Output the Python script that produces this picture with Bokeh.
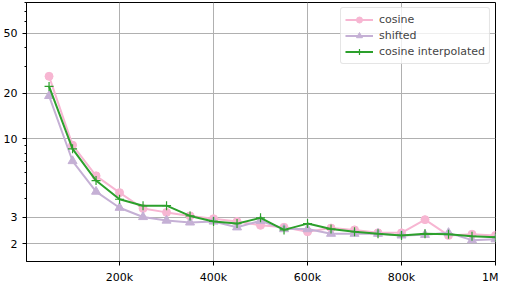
from bokeh.plotting import figure
from bokeh.models import FixedTicker, PrintfTickFormatter, Range1d, Legend, LegendItem
from bokeh.embed import file_html
from bokeh.resources import INLINE

x = [50000, 100000, 150000, 200000, 250000, 300000, 350000, 400000, 450000, 500000,
     550000, 600000, 650000, 700000, 750000, 800000, 850000, 900000, 950000, 1000000]
cosine = [25.9, 9.05, 5.66, 4.38, 3.44, 3.24, 3.07, 2.94, 2.82, 2.66,
          2.58, 2.41, 2.55, 2.48, 2.37, 2.37, 2.90, 2.28, 2.32, 2.28]
shifted = [19.2, 7.1, 4.45, 3.48, 3.02, 2.86, 2.78, 2.82, 2.58, 2.85,
           2.51, 2.51, 2.34, 2.34, 2.34, 2.28, 2.30, 2.37, 2.12, 2.15]
interp = [22.2, 8.55, 5.27, 3.96, 3.59, 3.59, 3.07, 2.82, 2.73, 2.98,
          2.48, 2.73, 2.51, 2.41, 2.34, 2.28, 2.34, 2.32, 2.25, 2.22]

x_ticks = [200000, 400000, 600000, 800000, 1000000]
x_labels = ["200k", "400k", "600k", "800k", "1M"]
y_ticks = [2, 3, 10, 20, 50]
y_minor = [4, 5, 6, 7, 8, 9, 30, 40, 60, 70, 80]

FONT = "DejaVu Sans"

p = figure(width=498, height=286, y_axis_type="log", output_backend="svg",
           toolbar_location=None, x_range=Range1d(2000, 1000000), y_range=Range1d(1.53, 80),
           min_border_left=24, min_border_right=3, min_border_top=2, min_border_bottom=4)

p.outline_line_color = "black"
p.outline_line_width = 1
p.background_fill_color = "white"

p.xaxis.ticker = FixedTicker(ticks=x_ticks)
p.xaxis.major_label_overrides = {t: l for t, l in zip(x_ticks, x_labels)}
p.yaxis.ticker = FixedTicker(ticks=y_ticks, minor_ticks=y_minor)
p.yaxis.formatter = PrintfTickFormatter(format="%d")

for ax in [p.xaxis, p.yaxis]:
    ax.axis_line_color = "black"
    ax.major_tick_line_color = "black"
    ax.minor_tick_line_color = "black"
    ax.major_tick_in = 0
    ax.major_tick_out = 4
    ax.minor_tick_in = 0
    ax.minor_tick_out = 2
    ax.major_label_text_font = FONT
    ax.major_label_text_font_size = "11px"
    ax.major_label_text_color = "black"
p.xaxis.minor_tick_line_color = None

p.xgrid.ticker = FixedTicker(ticks=x_ticks)
p.ygrid.ticker = FixedTicker(ticks=y_ticks)
for g in [p.xgrid, p.ygrid]:
    g.grid_line_color = "#b0b0b0"
    g.grid_line_width = 1

c1 = "#f7b6d2"
c2 = "#c5b0d5"
c3 = "#2ca02c"

l1 = p.line(x, cosine, line_color=c1, line_width=2)
m1 = p.scatter(x, cosine, marker="circle", size=8, fill_color=c1, line_color=c1)
l2 = p.line(x, shifted, line_color=c2, line_width=2)
m2 = p.scatter(x, shifted, marker="triangle", size=9, fill_color=c2, line_color=c2)
l3 = p.line(x, interp, line_color=c3, line_width=2)
m3 = p.scatter(x, interp, marker="cross", size=9, line_color=c3, line_width=1.2)

legend = Legend(items=[
    LegendItem(label="cosine", renderers=[l1, m1]),
    LegendItem(label="shifted", renderers=[l2, m2]),
    LegendItem(label="cosine interpolated", renderers=[l3, m3]),
], location="top_right")
legend.label_text_font = FONT
legend.label_text_font_size = "11px"
legend.label_height = 15
legend.glyph_height = 15
legend.glyph_width = 28
legend.spacing = 1
legend.padding = 4
legend.margin = 5
legend.label_standoff = 6
legend.border_line_color = "#cccccc"
legend.border_radius = 3
legend.background_fill_alpha = 0.8
p.add_layout(legend)

open("out.html", "w").write(file_html(p, INLINE))
